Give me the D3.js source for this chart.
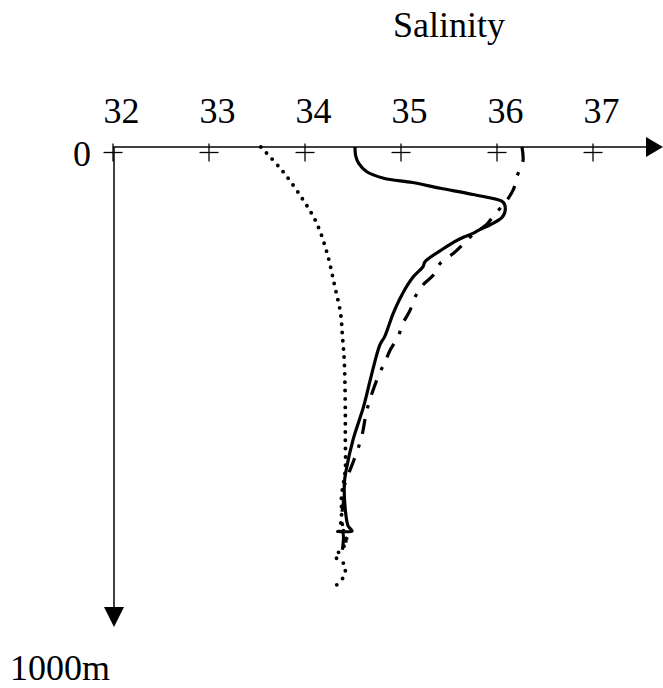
<!DOCTYPE html>
<html>
<head>
<meta charset="utf-8">
<script src="https://cdn.jsdelivr.net/npm/d3@7"></script>
<style>
  html, body { margin: 0; padding: 0; background: #fff; }
  svg { display: block; }
</style>
</head>
<body>
<svg id="chart" width="663" height="688"></svg>
<script>
// Salinity ticks along the top axis
const salinityTicks = [32, 33, 34, 35, 36, 37];

// Profile 1 (solid line): salinity vs depth (m)
const solidSalinity = [34.52, 34.53, 34.56, 34.64, 34.82, 35.12, 35.41, 35.75, 36.05, 36.08, 36.08, 36.05,
  35.93, 35.82, 35.75, 35.65, 35.55, 35.44, 35.25, 35.23, 35.13, 35.02, 34.92, 34.83, 34.78, 34.68,
  34.61, 34.50, 34.43, 34.41, 34.42, 34.45, 34.49, 34.34, 34.39, 34.39];
const solidDepth = [0, 20, 34, 51, 65, 74, 86, 99, 113, 120, 137, 147,
  162, 172, 180, 188, 198, 212, 239, 249, 270, 304, 346, 395, 412, 485,
  541, 610, 672, 700, 756, 790, 800, 801, 802, 839];

// Profile 2 (dotted line)
const dottedSalinity = [33.54, 33.77, 33.98, 34.12, 34.23, 34.31, 34.37, 34.39, 34.41, 34.42, 34.42, 34.42,
  34.38, 34.38, 34.38, 34.375, 34.43, 34.43, 34.38, 34.31, 34.38, 34.42, 34.40, 34.31];
const dottedDepth = [0, 51, 110, 158, 221, 290, 346, 394, 450, 554, 610, 672,
  728, 750, 770, 787, 812, 822, 839, 853, 863, 874, 896, 916];

// Profile 3 (dash-dot line)
const dashDotSalinity = [36.26, 36.27, 36.21, 36.17, 36.08, 35.98, 35.89, 35.77, 35.66, 35.55, 35.41, 35.34,
  35.23, 35.15, 35.09, 35.02, 34.97, 34.89, 34.83, 34.78, 34.71, 34.66, 34.63, 34.60, 34.56, 34.51,
  34.45, 34.40, 34.40, 34.38, 34.40, 34.43];
const dashDotDepth = [0, 30, 60, 89, 117, 139, 162, 179, 200, 221, 242, 266,
  287, 311, 342, 367, 395, 422, 449, 470, 506, 537, 562, 595, 624, 652,
  683, 714, 741, 770, 797, 824];

const axisTitle = "Salinity";
const depthZeroLabel = "0";
const depthEndLabel = "1000m";

const FONT = "'Times New Roman', 'Liberation Serif', Tinos, 'DejaVu Serif', 'Noto Serif', serif";

const svg = d3.select("#chart");

const x = d3.scaleLinear().domain([32, 37]).range([113, 593]);
const y = d3.scaleLinear().domain([0, 1000]).range([147, 627]);

// Horizontal (salinity) axis with arrow
const axisY = y(0);
svg.append("line")
  .attr("x1", x(32)).attr("x2", 646)
  .attr("y1", axisY).attr("y2", axisY)
  .attr("stroke", "#000").attr("stroke-width", 1.5);
svg.append("path")
  .attr("d", `M646,${axisY - 10}L663,${axisY}L646,${axisY + 10}Z`)
  .attr("fill", "#000");

// Vertical (depth) axis with arrow
const axisX = x(32) + 1;
svg.append("line")
  .attr("x1", axisX).attr("x2", axisX)
  .attr("y1", axisY).attr("y2", y(1000) - 20)
  .attr("stroke", "#000").attr("stroke-width", 1.5);
svg.append("path")
  .attr("d", `M${axisX - 10},${y(1000) - 20}L${axisX},${y(1000)}L${axisX + 10},${y(1000) - 20}Z`)
  .attr("fill", "#000");

// "+" tick marks sitting just under the axis line
const ticks = svg.append("g").selectAll("g").data(salinityTicks).join("g")
  .attr("transform", d => `translate(${x(d)},${axisY})`);
ticks.append("line")
  .attr("x1", -9.5).attr("x2", 9.5).attr("y1", 5.5).attr("y2", 5.5)
  .attr("stroke", "#000").attr("stroke-width", 1.3);
ticks.append("line")
  .attr("x1", 0).attr("x2", 0).attr("y1", -3.5).attr("y2", 14.5)
  .attr("stroke", "#000").attr("stroke-width", 1.3);

const label = sel => sel
  .attr("font-family", FONT)
  .attr("font-size", 36)
  .attr("fill", "#000");

// Tick labels
svg.append("g").selectAll("text").data(salinityTicks).join("text")
  .call(label)
  .attr("x", d => x(d) + 8.5)
  .attr("y", 123)
  .attr("text-anchor", "middle")
  .text(d => d);

svg.append("text").call(label).attr("x", 393).attr("y", 37).text(axisTitle);
svg.append("text").call(label).attr("x", 91).attr("y", 166).attr("text-anchor", "end").text(depthZeroLabel);
svg.append("text").call(label).attr("x", 10).attr("y", 680).text(depthEndLabel);

// Profiles
const line = d3.line()
  .x(d => x(d[0]))
  .y(d => y(d[1]))
  .curve(d3.curveCatmullRom.alpha(0.5));

const zip = (a, b) => a.map((v, i) => [v, b[i]]);

svg.append("path")
  .datum(zip(dottedSalinity, dottedDepth))
  .attr("d", line)
  .attr("fill", "none").attr("stroke", "#000")
  .attr("stroke-width", 3.9)
  .attr("stroke-linecap", "round")
  .attr("stroke-dasharray", "0,8.3");

svg.append("path")
  .datum(zip(dashDotSalinity, dashDotDepth))
  .attr("d", line)
  .attr("fill", "none").attr("stroke", "#000")
  .attr("stroke-width", 3.2)
  .attr("stroke-dasharray", "15,11,3.5,11");

svg.append("path")
  .datum(zip(solidSalinity, solidDepth))
  .attr("d", line)
  .attr("fill", "none").attr("stroke", "#000")
  .attr("stroke-width", 3.2)
  .attr("stroke-linejoin", "round");
</script>
</body>
</html>
